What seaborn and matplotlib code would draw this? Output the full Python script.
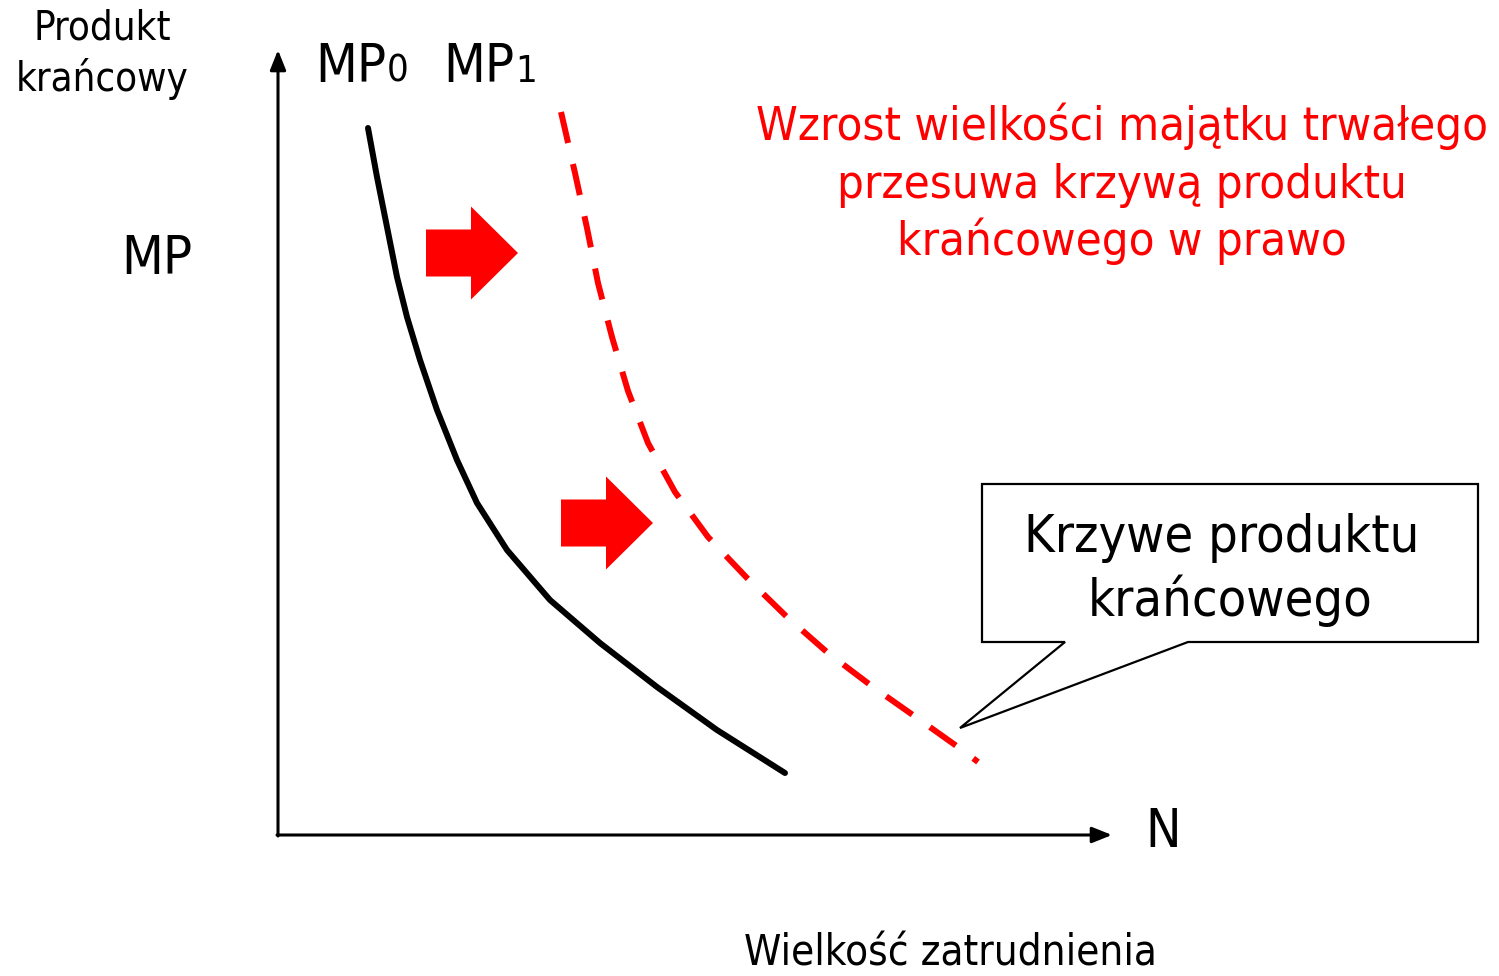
import numpy as np
import pandas as pd
import matplotlib
matplotlib.use("Agg")
import matplotlib.pyplot as plt
import seaborn as sns

# ─── Data (canvas units: x to the right, y downward, like the slide) ─────────
mp0_x = [368, 377, 387, 397, 407, 420, 437, 457, 477, 507, 550, 600, 657, 717, 785]
mp0_y = [128, 177, 227, 277, 317, 360, 410, 460, 503, 550, 600, 643, 687, 730, 773]

mp1_x = [561, 575, 587, 598, 612, 628, 648, 675, 708, 747, 787, 828, 873, 920, 965, 978]
mp1_y = [112, 173, 228, 283, 337, 391, 443, 492, 537, 578, 617, 653, 687, 720, 752, 762]

shift_arrows_x = [426, 561]
shift_arrows_y = [253, 523]

red_lines = ["Wzrost wielkości majątku trwałego",
             "przesuwa krzywą produktu",
             "krańcowego w prawo"]
callout_lines = ["Krzywe produktu", "krańcowego"]
y_label_lines = ["Produkt", "krańcowy"]

RED = "#ff0000"
PT = 0.72  # px -> pt at dpi 100

sns.set_theme(style="white")
plt.rcParams["font.family"] = ["DejaVu Sans"]
plt.rcParams["text.color"] = "black"

fig = plt.figure(figsize=(14.99, 9.76), dpi=100)
ax = fig.add_axes([0, 0, 1, 1])


def label(x, y, s, px, **kw):
    kw.setdefault("ha", "center")
    ax.text(x, y, s, va="baseline", fontsize=px * PT,
            fontstretch="condensed", **kw)


# axes with arrowheads
arrow_style = dict(arrowstyle="-|>,head_length=1.0,head_width=0.4",
                   color="black", lw=2.2, shrinkA=0, shrinkB=0)
ax.annotate("", xy=(278, 50), xytext=(278, 836), arrowprops=arrow_style)
ax.annotate("", xy=(1112, 835), xytext=(277, 835), arrowprops=arrow_style)

# marginal product curves
curves = pd.DataFrame({"x": mp0_x, "y": mp0_y})
sns.lineplot(data=curves, x="x", y="y", sort=False, estimator=None,
             color="black", lw=6 * PT, solid_joinstyle="round", ax=ax)
shifted = pd.DataFrame({"x": mp1_x, "y": mp1_y})
sns.lineplot(data=shifted, x="x", y="y", sort=False, estimator=None,
             color=RED, lw=6 * PT, dashes=(5.3, 3.6), ax=ax)

ax.set_xlim(0, 1499)
ax.set_ylim(976, 0)
ax.axis("off")

# block arrows showing the shift
for sx, sy in zip(shift_arrows_x, shift_arrows_y):
    ax.arrow(sx, sy, 92, 0, width=47, head_width=93, head_length=47,
             length_includes_head=True, color=RED, lw=0)

# callout box
callout_x = [982, 1478, 1478, 1188, 960, 1065, 982, 982]
callout_y = [484, 484, 642, 642, 728, 642, 642, 484]
ax.fill(callout_x, callout_y, facecolor="white", edgecolor="black", lw=1.6)
label(1222, 552, callout_lines[0], 52)
label(1230, 616, callout_lines[1], 52)

# labels
label(102, 39, y_label_lines[0], 40)
label(102, 91, y_label_lines[1], 40)
label(157, 274, "MP", 54)
label(315, 82, "MP", 54, ha="left")
label(387, 82, "0", 38, ha="left")
label(443, 82, "MP", 54, ha="left")
label(515, 82, "1", 38, ha="left")
label(1163, 847, "N", 53)
label(950, 966, "Wielkość zatrudnienia", 42)

for yb, line in zip([140, 198, 255], red_lines):
    label(1122, yb, line, 47, color=RED)

fig.savefig("out.png", dpi=100)
